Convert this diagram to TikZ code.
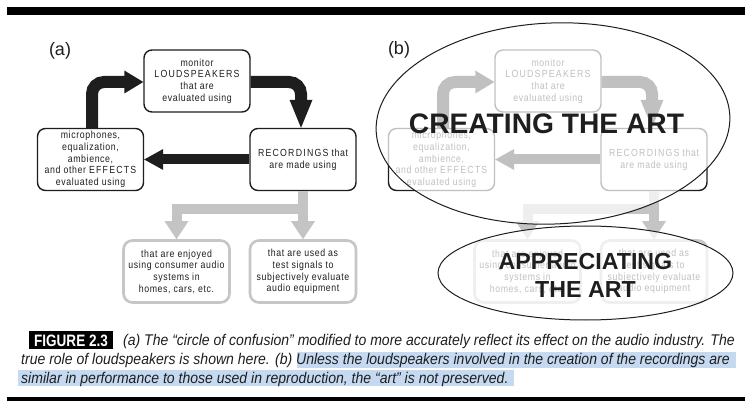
\documentclass[tikz,border=0pt]{standalone}
\usepackage{fontspec}
\setmainfont{Liberation Sans}
\newfontfamily\boxfont[FakeStretch=0.85, LetterSpace=6]{Liberation Sans}
\newfontfamily\capsfont[FakeStretch=0.85, LetterSpace=12]{Liberation Sans}
\newfontfamily\capfont[FakeStretch=0.905]{Liberation Sans}
\newfontfamily\figfont[FakeStretch=0.82]{Liberation Sans}
\usetikzlibrary{calc}

\definecolor{boxgray}{HTML}{C6C6C6}
\definecolor{arrowgray}{HTML}{C4C4C4}
\definecolor{hl}{HTML}{C5D9F1}
\definecolor{ink}{HTML}{1E1E1E}

\newcommand\cps[1]{{\capsfont #1}}

\tikzset{
  topbox/.style={draw=ink, line width=1.4pt, rounded corners=8pt, minimum width=106pt,
    minimum height=62pt, inner sep=0pt, align=center,
    font=\boxfont\fontsize{10.3}{11.7}\selectfont, text=ink},
  botbox/.style={topbox, draw=boxgray, line width=2.6pt, rounded corners=9pt},
  blackshaft/.style={draw=ink, line width=12pt, rounded corners=12pt, line cap=butt},
  midshaft/.style={draw=ink, line width=10pt, line cap=butt},
  grayshaft/.style={draw=arrowgray, line width=10pt, line cap=butt},
  blackhead/.style={fill=ink},
  grayhead/.style={fill=arrowgray},
  panellabel/.style={font=\fontsize{18}{18}\selectfont, text=ink, inner sep=0pt},
  fade/.style={fill=white, opacity=0.72},
  ring/.style={draw=ink, line width=1pt},
  bigtext/.style={font=\bfseries\fontsize{#1}{#1}\selectfont, text=ink, inner sep=0pt, align=center},
  captext/.style={font=\capfont\itshape\fontsize{15.5}{19}\selectfont, text=ink, inner sep=0pt, anchor=base west},
}

\newcommand\drawpanel[1]{%
  \node[topbox] (#1lsp) at (197,81) {monitor\\\cps{LOUDSPEAKERS}\\that are\\evaluated using};
  \node[topbox] (#1mic) at (90.5,159.5) {microphones,\\equalization,\\ambience,\\and other \cps{EFFECTS}\\evaluated using};
  \node[topbox] (#1rec) at (303,159.5) {\cps{RECORDINGS} that\\are made using};
  \node[botbox] (#1bl) at (176.5,271.5) {that are enjoyed\\using consumer audio\\systems in\\homes, cars, etc.};
  \node[botbox] (#1br) at (303,271.5) {that are used as\\test signals to\\subjectively evaluate\\audio equipment};
  % black loop arrows
  \draw[blackshaft] ($(#1mic.north)+(1.5,0)$) |- ($(#1lsp.west)+(-18,1)$);
  \fill[blackhead] ($(#1lsp.west)+(0,1)$) -- ++(-19,-11.5) -- ++(0,23) -- cycle;
  \draw[blackshaft] ($(#1lsp.east)+(0,1)$) -| ($(#1rec.north)+(-2,-27)$);
  \fill[blackhead] ($(#1rec.north)+(-2,0)$) -- ++(-11.5,-28) -- ++(23,0) -- cycle;
  \draw[midshaft] (#1rec.west) -- ($(#1mic.east)+(18,0)$);
  \fill[blackhead] (#1mic.east) -- ++(19,-10.5) -- ++(0,21) -- cycle;
  % gray arrows
  \draw[grayshaft] (#1rec.south) -- ($(#1br.north)+(0,-17)$);
  \fill[grayhead] (#1br.north) -- ++(-12,-18) -- ++(24,0) -- cycle;
  \draw[grayshaft] (#1rec.south) -- ++(0,18) -| ($(#1bl.north)+(0,-17)$);
  \fill[grayhead] (#1bl.north) -- ++(-12,-18) -- ++(24,0) -- cycle;
}

\begin{document}
\begin{tikzpicture}[x=1pt, y=-1pt]
  \useasboundingbox (0,0) rectangle (745,401);
  \fill[white] (0,0) rectangle (745,401);
  % rules
  \fill[black] (7,7) rectangle (745,15);
  \fill[black] (7,397) rectangle (745,401);

  % panel (a)
  \node[panellabel] (labela) at (60,51) {(a)};
  \drawpanel{a}

  % panel (b)
  \node[panellabel] (labelb) at (399,50) {(b)};
  \begin{scope}[xshift=351pt]
    \drawpanel{b}
  \end{scope}
  \fill[fade, rotate around={2.5:(553,123.5)}] (553,123.5) ellipse [x radius=177, y radius=100.5];
  \fill[fade] (585.5,273) ellipse [x radius=147.5, y radius=47];
  \draw[ring, rotate around={2.5:(553,123.5)}] (553,123.5) ellipse [x radius=177, y radius=100.5];
  \draw[ring] (585.5,273) ellipse [x radius=147.5, y radius=47];
  \node[bigtext=28.2] (creating) at (546.5,124) {CREATING THE ART};
  \node[bigtext=23.2, font=\bfseries\fontsize{23.2}{28}\selectfont] (appreciating) at (585.5,275) {APPRECIATING\\THE ART};

  % caption
  \fill[hl] (297,352) rectangle (736,368);
  \fill[hl] (18,370) rectangle (514,386);
  \fill[black] (29,331) rectangle (113,349);
  \node[font=\figfont\bfseries\fontsize{16.5}{16.5}\selectfont, text=white, inner sep=0pt] (fig) at (71,340.5) {FIGURE 2.3};
  \node[captext] (cap1) at (123,345) {(a) The “circle of confusion” modified to more accurately reflect its effect on the audio industry. The};
  \node[captext] (cap2) at (21,364) {true role of loudspeakers is shown here. (b) Unless the loudspeakers involved in the creation of the recordings are};
  \node[captext] (cap3) at (21,383) {similar in performance to those used in reproduction, the “art” is not preserved.};
\end{tikzpicture}
\end{document}
